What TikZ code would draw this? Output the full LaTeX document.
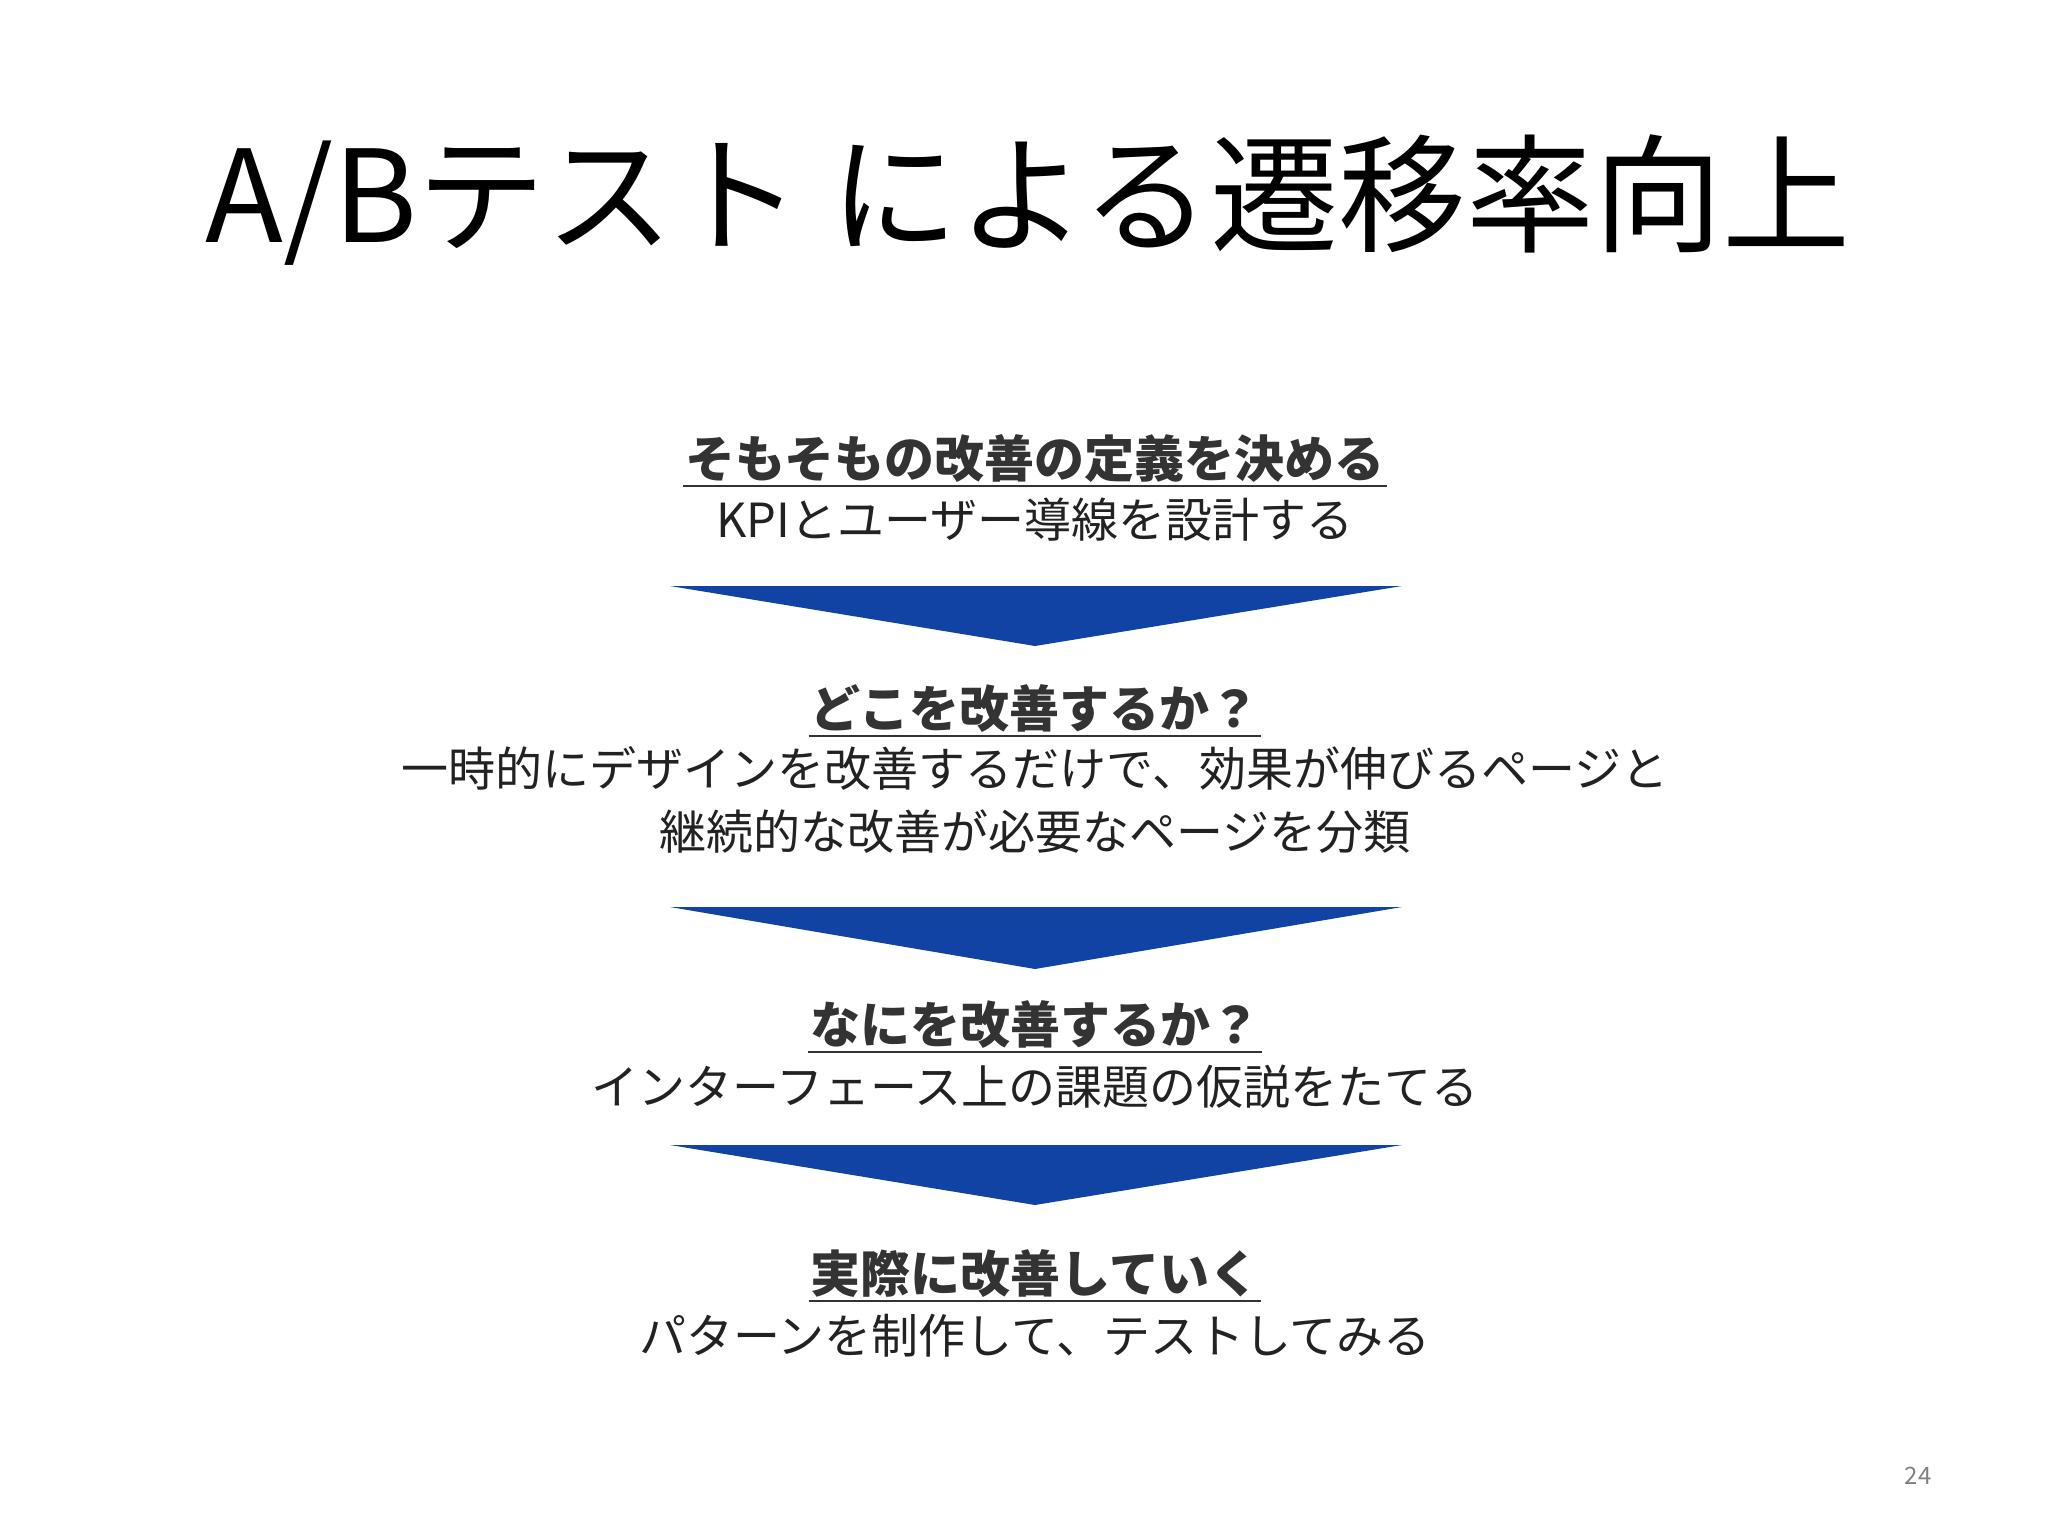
\documentclass[tikz,border=0pt]{standalone}
\usepackage{fontspec}
\setmainfont{Noto Sans CJK JP}
\definecolor{bluea}{HTML}{1043A3}
\definecolor{headc}{HTML}{333333}
\definecolor{bodyc}{HTML}{222222}
\begin{document}
\begin{tikzpicture}[x=1pt,y=-1pt,
  head/.style={font=\fontsize{50}{56}\selectfont\bfseries,text=headc,inner sep=0pt,anchor=base},
  body/.style={font=\fontsize{47}{64}\selectfont,text=bodyc,inner sep=0pt,anchor=base,align=center},
  arr/.style={fill=bluea,draw=none}]
\useasboundingbox (0,0) rectangle (2048,1536);
\fill[white] (0,0) rectangle (2048,1536);
\node[font=\fontsize{128}{140}\selectfont,inner sep=0pt,anchor=base] (title) at (1028,242) {A/Bテスト による遷移率向上};
\node[head] (h1) at (1035,477) {そもそもの改善の定義を決める};
\draw[headc,line width=2pt] ([xshift=-2pt,yshift=-9pt]h1.base west) -- ([xshift=2pt,yshift=-9pt]h1.base east);
\node[body] (b1) at (1035,537) {KPIとユーザー導線を設計する};
\path[arr] (670,586) -- (1402,586) -- (1035,646) -- cycle;
\node[head] (h2) at (1035,727) {どこを改善するか？};
\draw[headc,line width=2pt] ([xshift=-2pt,yshift=-9pt]h2.base west) -- ([xshift=2pt,yshift=-9pt]h2.base east);
\node[body] (b2) at (1035,786) {一時的にデザインを改善するだけで、効果が伸びるページと};
\node[body] (b3) at (1035,849) {継続的な改善が必要なページを分類};
\path[arr] (670,907) -- (1402,907) -- (1035,969) -- cycle;
\node[head] (h3) at (1035,1043) {なにを改善するか？};
\draw[headc,line width=2pt] ([xshift=-2pt,yshift=-9pt]h3.base west) -- ([xshift=2pt,yshift=-9pt]h3.base east);
\node[body] (b4) at (1035,1104) {インターフェース上の課題の仮説をたてる};
\path[arr] (670,1145) -- (1402,1145) -- (1035,1205) -- cycle;
\node[head] (h4) at (1035,1292) {実際に改善していく};
\draw[headc,line width=2pt] ([xshift=-2pt,yshift=-9pt]h4.base west) -- ([xshift=2pt,yshift=-9pt]h4.base east);
\node[body] (b5) at (1035,1353) {パターンを制作して、テストしてみる};
\node[font=\fontsize{24}{28}\selectfont,text=gray,inner sep=0pt] (pg) at (1918,1476) {24};
\end{tikzpicture}
\end{document}
